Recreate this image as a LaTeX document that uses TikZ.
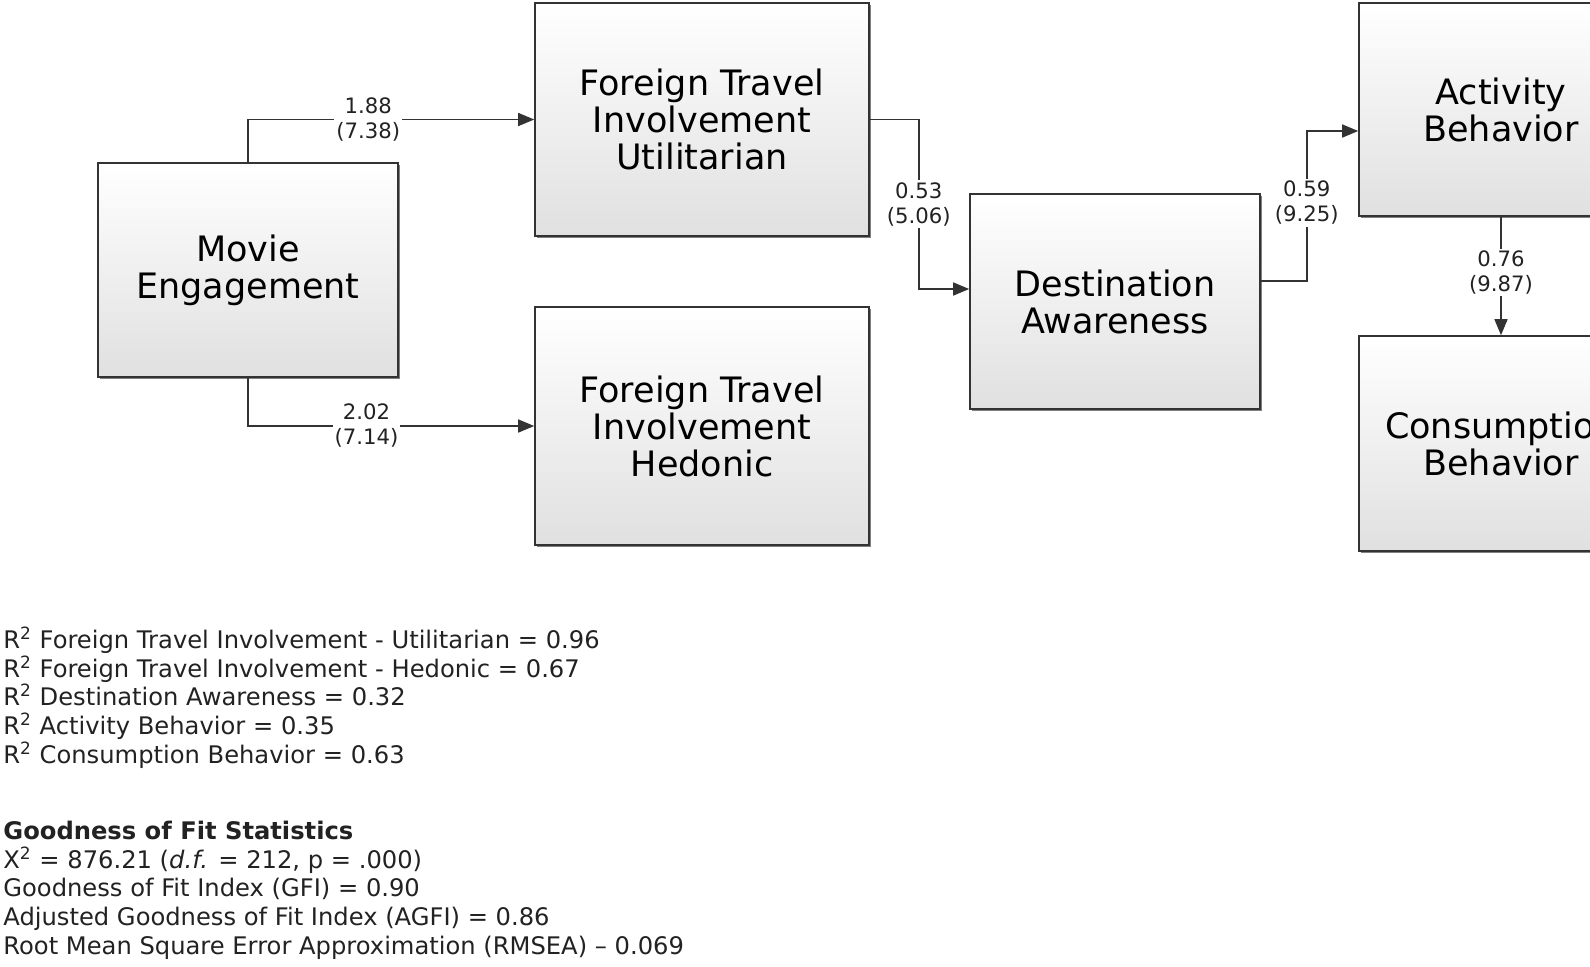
\documentclass[tikz,border=0pt]{standalone}
\usepackage{fontspec}
\setmainfont{DejaVu Sans}
\usetikzlibrary{arrows.meta,shadows}
\definecolor{edgecol}{HTML}{333333}
\definecolor{boxbot}{HTML}{E0E0E0}
\definecolor{txt}{HTML}{222222}
\tikzset{
  construct/.style={draw=edgecol, line width=0.8pt, top color=white, bottom color=boxbot,
    drop shadow={shadow xshift=1.2pt, shadow yshift=-1.2pt, fill=black!50, opacity=1},
    align=center, inner sep=0pt, text=black,
    font=\fontsize{17.5}{18.5}\selectfont},
  conn/.style={draw=edgecol, line width=0.75pt, -{Triangle[length=8pt,width=6.5pt]}},
  lbl/.style={fill=white, inner sep=1pt, align=center, text=txt,
    font=\fontsize{10.6}{12.5}\selectfont},
  stat/.style={anchor=base west, inner sep=0pt, text=txt,
    font=\fontsize{12.1}{14}\selectfont}
}
\begin{document}
\begin{tikzpicture}[x=0.5pt,y=-0.5pt]
\useasboundingbox (0,0) rectangle (1590,966);
\clip (0,0) rectangle (1590,966);
\fill[white] (0,0) rectangle (1590,966);

% constructs
\node[construct, minimum width=150pt, minimum height=107pt] (me) at (248,270) {Movie\\Engagement};
\node[construct, minimum width=167pt, minimum height=116.5pt] (ftiu) at (702,119.5) {Foreign Travel\\Involvement\\Utilitarian};
\node[construct, minimum width=167pt, minimum height=119pt] (ftih) at (702,426) {Foreign Travel\\Involvement\\Hedonic};
\node[construct, minimum width=145pt, minimum height=107.5pt] (da) at (1115,301.5) {Destination\\Awareness};
\node[construct, minimum width=142pt, minimum height=106.5pt] (ab) at (1501,109.5) {Activity\\Behavior};
\node[construct, minimum width=142pt, minimum height=107.5pt] (cb) at (1501,443.5) {Consumption\\Behavior};

% paths
\draw[conn] (me.north) |- node[lbl, pos=0.71] {1.88\\(7.38)} (ftiu.west);
\draw[conn] (me.south) |- node[lbl, pos=0.707] {2.02\\(7.14)} (ftih.west);
\draw[conn] (ftiu.east) -- ++(49,0) |- node[lbl, pos=0.25] {0.53\\(5.06)} ([yshift=6.25pt]da.west);
\draw[conn] ([yshift=10.25pt]da.east) -- ++(46,0) |- node[lbl, pos=0.26] {0.59\\(9.25)} ([yshift=-10.75pt]ab.west);
\draw[conn] (ab.south) -- node[lbl, pos=0.47] {0.76\\(9.87)} (cb.north);

% statistics
\node[stat] (r1) at (3,648) {R\textsuperscript{2} Foreign Travel Involvement - Utilitarian = 0.96};
\node[stat] (r2) at (3,677) {R\textsuperscript{2} Foreign Travel Involvement - Hedonic = 0.67};
\node[stat] (r3) at (3,705.5) {R\textsuperscript{2} Destination Awareness = 0.32};
\node[stat] (r4) at (3,734) {R\textsuperscript{2} Activity Behavior = 0.35};
\node[stat] (r5) at (3,763) {R\textsuperscript{2} Consumption Behavior = 0.63};

\node[stat, font=\fontsize{12.1}{14}\selectfont\bfseries] (g0) at (3,839) {Goodness of Fit Statistics};
\node[stat] (g1) at (3,868) {X\textsuperscript{2} = 876.21 (\textit{d.f.} = 212, p = .000)};
\node[stat] (g2) at (3,896.5) {Goodness of Fit Index (GFI) = 0.90};
\node[stat] (g3) at (3,925) {Adjusted Goodness of Fit Index (AGFI) = 0.86};
\node[stat] (g4) at (3,954) {Root Mean Square Error Approximation (RMSEA) – 0.069};
\end{tikzpicture}
\end{document}
